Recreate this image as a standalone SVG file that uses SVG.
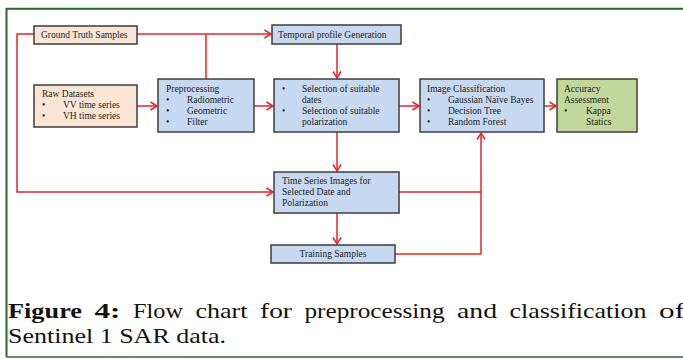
<svg xmlns="http://www.w3.org/2000/svg" width="683" height="359" viewBox="0 0 683 359">
<style>
.box{stroke:#3c3c3c;stroke-width:1.5}
.peach{fill:#fbe6d6}
.blue{fill:#c6d9f1}
.green{fill:#c3d69b}
.t{font-family:"Liberation Serif","Times New Roman",serif;font-size:9.5px;fill:#222}
.c{font-family:"Liberation Serif","Times New Roman",serif;font-size:21px;fill:#111}
.ln{fill:none;stroke:#e3262b;stroke-width:1.5}
</style>
<defs>
<marker id="ah" viewBox="0 0 8 10" refX="7.5" refY="5" markerWidth="8" markerHeight="10" markerUnits="userSpaceOnUse" orient="auto">
<path d="M1,1 L7.5,5 L1,9" fill="none" stroke="#e3262b" stroke-width="1.5"/>
</marker>
</defs>
<rect x="0" y="0" width="683" height="359" fill="#ffffff"/>
<path d="M6.5,357 V8.7 H683" fill="none" stroke="#2f6330" stroke-width="2"/>
<path d="M6.5,357 H683" fill="none" stroke="#2f6330" stroke-width="1.5"/>

<g id="connectors">
<path class="ln" d="M137,34 H271" marker-end="url(#ah)"/>
<path class="ln" d="M206,34 V79"/>
<path class="ln" d="M34,34 H17 V192 H273" marker-end="url(#ah)"/>
<path class="ln" d="M137,106 H157" marker-end="url(#ah)"/>
<path class="ln" d="M254,106 H273" marker-end="url(#ah)"/>
<path class="ln" d="M337,44 V78" marker-end="url(#ah)"/>
<path class="ln" d="M399,106 H419" marker-end="url(#ah)"/>
<path class="ln" d="M544,106 H556" marker-end="url(#ah)"/>
<path class="ln" d="M337,132 V171" marker-end="url(#ah)"/>
<path class="ln" d="M337,213 V244" marker-end="url(#ah)"/>
<path class="ln" d="M399,192 H481"/>
<path class="ln" d="M395,254 H481 V133" marker-end="url(#ah)"/>
</g>

<g id="ground-truth">
<rect class="box peach" x="34" y="26" width="103" height="18"/>
<text class="t" x="41" y="38">Ground Truth Samples</text>
</g>
<g id="temporal">
<rect class="box blue" x="272" y="25" width="129" height="19"/>
<text class="t" x="278" y="38">Temporal profile Generation</text>
</g>
<g id="raw">
<rect class="box peach" x="34" y="85" width="103" height="42"/>
<text class="t" x="42" y="97">Raw Datasets</text>
<text class="t" x="42" y="108">•</text><text class="t" x="63" y="108">VV time series</text>
<text class="t" x="42" y="119">•</text><text class="t" x="63" y="119">VH time series</text>
</g>
<g id="preprocessing">
<rect class="box blue" x="158" y="79" width="96" height="53"/>
<text class="t" x="166" y="92">Preprocessing</text>
<text class="t" x="166" y="103">•</text><text class="t" x="187" y="103">Radiometric</text>
<text class="t" x="166" y="114">•</text><text class="t" x="187" y="114">Geometric</text>
<text class="t" x="166" y="125">•</text><text class="t" x="187" y="125">Filter</text>
</g>
<g id="selection">
<rect class="box blue" x="274" y="79" width="125" height="53"/>
<text class="t" x="282" y="92">•</text><text class="t" x="302" y="92">Selection of suitable</text>
<text class="t" x="302" y="103">dates</text>
<text class="t" x="282" y="114">•</text><text class="t" x="302" y="114">Selection of suitable</text>
<text class="t" x="302" y="125">polarization</text>
</g>
<g id="classification">
<rect class="box blue" x="420" y="79" width="124" height="53"/>
<text class="t" x="427" y="92">Image Classification</text>
<text class="t" x="427" y="103">•</text><text class="t" x="448" y="103">Gaussian Naïve Bayes</text>
<text class="t" x="427" y="114">•</text><text class="t" x="448" y="114">Decision Tree</text>
<text class="t" x="427" y="125">•</text><text class="t" x="448" y="125">Random Forest</text>
</g>
<g id="accuracy">
<rect class="box green" x="557" y="79" width="80" height="53"/>
<text class="t" x="564" y="92">Accuracy</text>
<text class="t" x="564" y="103">Assessment</text>
<text class="t" x="564" y="114">•</text><text class="t" x="586" y="114">Kappa</text>
<text class="t" x="586" y="125">Statics</text>
</g>
<g id="timeseries">
<rect class="box blue" x="274" y="172" width="125" height="41"/>
<text class="t" x="282" y="184">Time Series Images  for</text>
<text class="t" x="282" y="195">Selected Date and</text>
<text class="t" x="282" y="206">Polarization</text>
</g>
<g id="training">
<rect class="box blue" x="271" y="245" width="124" height="18"/>
<text class="t" x="333" y="257" text-anchor="middle">Training Samples</text>
</g>

<g id="caption">
<text class="c" y="318"><tspan x="8" font-weight="bold" textLength="74" lengthAdjust="spacingAndGlyphs">Figure</tspan><tspan x="94.5" font-weight="bold" textLength="26" lengthAdjust="spacingAndGlyphs">4:</tspan><tspan x="133" textLength="50" lengthAdjust="spacingAndGlyphs">Flow</tspan><tspan x="195.5" textLength="52" lengthAdjust="spacingAndGlyphs">chart</tspan><tspan x="260" textLength="32" lengthAdjust="spacingAndGlyphs">for</tspan><tspan x="304.5" textLength="140" lengthAdjust="spacingAndGlyphs">preprocessing</tspan><tspan x="457" textLength="40" lengthAdjust="spacingAndGlyphs">and</tspan><tspan x="509.5" textLength="137" lengthAdjust="spacingAndGlyphs">classification</tspan><tspan x="659" textLength="26" lengthAdjust="spacingAndGlyphs">of</tspan></text>
<text class="c" x="8" y="343" textLength="218" lengthAdjust="spacingAndGlyphs">Sentinel 1 SAR data.</text>
</g>
</svg>
